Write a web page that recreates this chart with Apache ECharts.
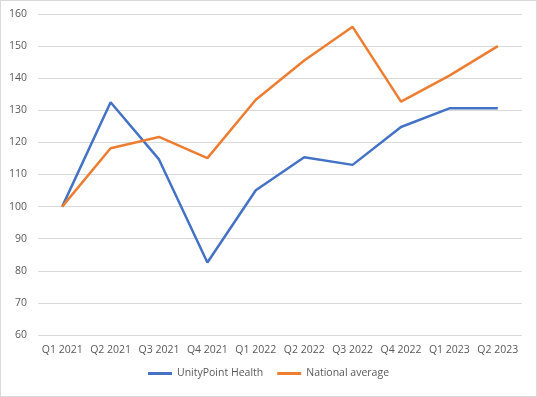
<!DOCTYPE html>
<html>
<head>
<meta charset="utf-8">
<script src="https://cdn.jsdelivr.net/npm/echarts@6/dist/echarts.min.js"></script>
<style>
  html, body { margin: 0; padding: 0; background: #fff; }
  #chart { width: 535px; height: 395px; border: 1px solid #d9d9d9; }
</style>
</head>
<body>
<div id="chart"></div>
<script>
var categories = ['Q1 2021', 'Q2 2021', 'Q3 2021', 'Q4 2021', 'Q1 2022',
  'Q2 2022', 'Q3 2022', 'Q4 2022', 'Q1 2023', 'Q2 2023']
var unityPoint = [100, 132.5, 114.7, 82.6, 105.1, 115.4, 113, 124.8, 130.6, 130.6]
var nationalAvg = [100, 118.2, 121.7, 115.1, 133.3, 145.5, 156, 132.7, 140.8, 150]

var chart = echarts.init(document.getElementById('chart'))
var labelStyle = { color: '#595959', fontSize: 10.5, fontFamily: 'Open Sans' }

chart.setOption({
  animation: false,
  grid: { left: 37, right: 14, top: 13, bottom: 61 },
  legend: {
    bottom: 12,
    left: 'center',
    itemWidth: 24,
    itemHeight: 3,
    itemGap: 14,
    icon: 'rect',
    textStyle: labelStyle,
    data: ['UnityPoint Health', 'National average']
  },
  xAxis: {
    type: 'category',
    data: categories,
    boundaryGap: true,
    axisLine: { show: false },
    axisTick: { show: false },
    axisLabel: Object.assign({ margin: 10, interval: 0, hideOverlap: false }, labelStyle)
  },
  yAxis: {
    type: 'value',
    min: 60,
    max: 160,
    interval: 10,
    axisLine: { show: false },
    axisTick: { show: false },
    axisLabel: Object.assign({ margin: 11 }, labelStyle),
    splitLine: { lineStyle: { color: '#d9d9d9', width: 1 } }
  },
  series: [
    {
      name: 'UnityPoint Health',
      type: 'line',
      data: unityPoint,
      symbol: 'none',
      lineStyle: { color: '#4472c4', width: 2.5 },
      itemStyle: { color: '#4472c4' }
    },
    {
      name: 'National average',
      type: 'line',
      data: nationalAvg,
      symbol: 'none',
      lineStyle: { color: '#ed7d31', width: 2.5 },
      itemStyle: { color: '#ed7d31' }
    }
  ]
})
</script>
</body>
</html>
